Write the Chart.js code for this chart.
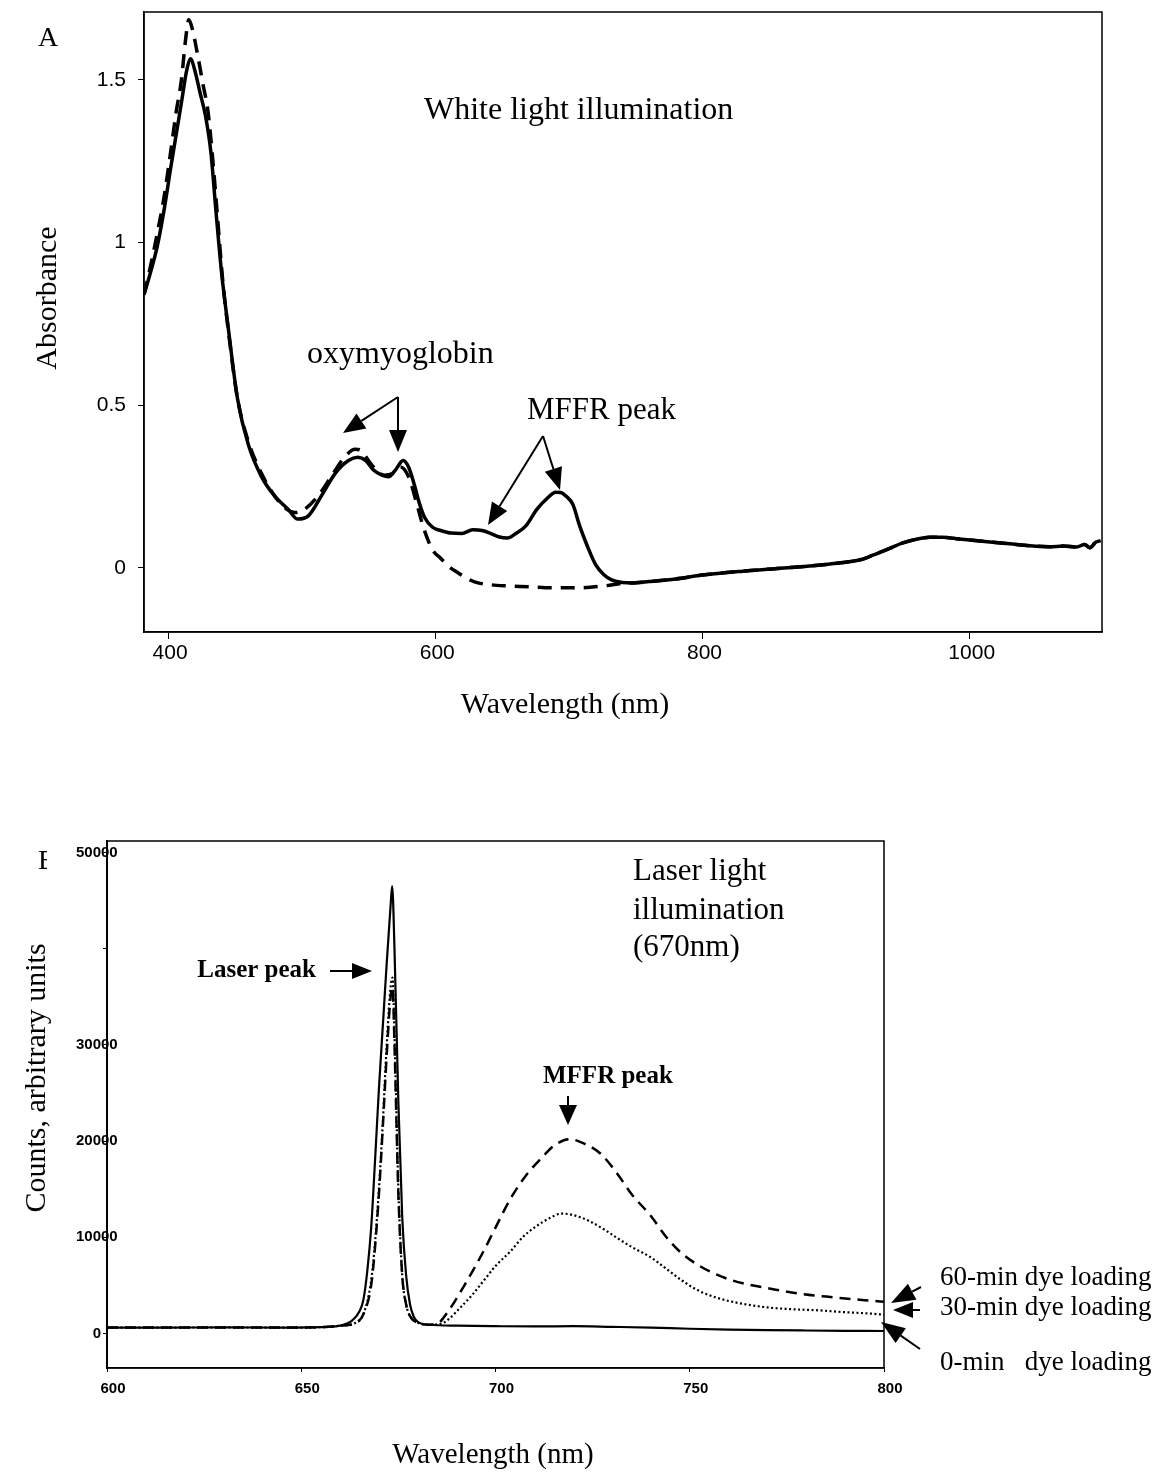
<!DOCTYPE html>
<html><head><meta charset="utf-8">
<script src="https://cdn.jsdelivr.net/npm/chart.js@4.4.1/dist/chart.umd.min.js"></script>
<style>
html,body{margin:0;padding:0;background:#fff;}
body{width:1156px;height:1474px;position:relative;overflow:hidden;}
#c1{position:absolute;left:0;top:0;}
#c2{position:absolute;left:0;top:760px;}
</style></head><body>
<canvas id="c1" width="1156" height="760"></canvas>
<canvas id="c2" width="1156" height="714"></canvas>
<script>
// ---------- Panel A: absorbance (white light) ----------
const absNmSolid = [382,387,392,397,402,406,410,414,417,420,424,428,432,436,440,445,452,460,470,480,490,497,505,516,525,535,542,548,554,560,565,570,576,580,584,588,592,598,604,612,620,628,635,642,648,654,660,668,676,684,690,694,698,703,708,714,720,726,732,740,748,760,780,800,830,852,880,902,918,928,940,950,960,970,980,990,1000,1015,1030,1045,1060,1070,1080,1086,1090,1094,1098];
const absSolid = [0.84,0.91,0.99,1.10,1.23,1.33,1.43,1.53,1.565,1.53,1.46,1.39,1.28,1.09,0.91,0.74,0.52,0.38,0.28,0.22,0.18,0.15,0.16,0.23,0.29,0.33,0.34,0.33,0.30,0.285,0.28,0.30,0.33,0.31,0.26,0.20,0.155,0.125,0.115,0.107,0.106,0.117,0.115,0.105,0.095,0.092,0.105,0.13,0.18,0.215,0.233,0.232,0.22,0.195,0.13,0.065,0.01,-0.02,-0.037,-0.045,-0.046,-0.042,-0.034,-0.022,-0.01,-0.003,0.006,0.015,0.025,0.04,0.06,0.077,0.088,0.094,0.094,0.09,0.086,0.08,0.074,0.068,0.065,0.067,0.064,0.072,0.062,0.078,0.084];
const absNmDashed = [382,387,392,397,402,406,410,413,415.5,418,422,426,430,434,437,441,446,452,460,470,480,489,495,502,512,522,532,540,545,550,556,562,568,574,580,586,591,598,604,610,617,625,632,642,652,670,687,707,727,744,748,760,780,800,830,852,880,902,918,928,940,950,960,970,980,990,1000,1015,1030,1045,1060,1070,1080,1086,1090,1094,1098];
const absDashed = [0.84,0.93,1.03,1.14,1.28,1.40,1.50,1.62,1.685,1.66,1.58,1.49,1.40,1.23,1.08,0.88,0.70,0.52,0.39,0.29,0.22,0.18,0.17,0.18,0.22,0.28,0.34,0.365,0.36,0.33,0.30,0.285,0.29,0.31,0.28,0.20,0.126,0.055,0.03,0.005,-0.015,-0.035,-0.046,-0.052,-0.055,-0.058,-0.061,-0.061,-0.055,-0.046,-0.046,-0.042,-0.034,-0.022,-0.01,-0.003,0.006,0.015,0.025,0.04,0.06,0.077,0.088,0.094,0.094,0.09,0.086,0.08,0.074,0.068,0.065,0.067,0.064,0.072,0.062,0.078,0.084];
const absXTicks = [400,600,800,1000];
const absYTicks = [0,0.5,1,1.5];

// ---------- Panel B: fluorescence (laser 670 nm) ----------
const flNm0 = [600,615,630,645,655,660,663,665,666,667,668,669,670,671,672,673,673.4,674,675,676,677,678,679,680,683,690,700,710,720,730,740,750,760,770,780,790,800];
const fl0 = [600,600,620,600,650,800,1300,2300,3500,6500,11000,18000,25500,32000,38500,44500,46500,40000,24000,12000,6000,3000,1700,1200,900,800,750,720,750,680,600,480,400,340,300,270,250];
const flNm30 = [600,615,630,645,655,660,664,666,668,669,670,671,672,673,673.5,674,675,676,677,678,680,683,686,688,691,694,697,700,704,707,710,714,717,720,724,728,731,735,740,744,748,752,757,762,770,777,783,790,795,800];
const fl30 = [600,600,620,600,650,800,1100,2000,5500,9500,15000,22000,30000,36000,37000,31000,15000,6000,3000,1800,1100,900,1000,1500,2700,4000,5500,7000,8600,10000,11000,12000,12460,12300,11700,10800,10000,9000,7900,6700,5500,4500,3700,3200,2700,2500,2400,2200,2100,1950];
const flNm60 = [600,615,630,645,655,660,664,666,668,669,670,671,672,673,673.5,674,675,676,677,678,680,683,685,688,692,697,700,704,708,712,715,719,723,727,731,735,740,744,748,753,757,761,766,770,778,787,795,800];
const fl60 = [600,600,620,600,650,800,1100,2000,5000,9000,14500,21500,29000,35000,36000,30000,14500,6000,3000,1800,1100,900,1000,2400,5000,8600,11000,14100,16500,18300,19500,20200,19700,18700,16800,14500,12200,10000,8300,6900,6100,5500,5000,4700,4150,3750,3450,3300];
const flXTicks = [600,650,700,750,800];
const flYTicks = [0,10000,20000,30000,40000,50000];
const flYLabels = ['0','10000','20000','30000','','50000'];

const SERIF = "'Liberation Serif','Times New Roman',serif";
const SANS = "'Liberation Sans',Arial,sans-serif";

function pts(xs, ys){ return xs.map((x,i)=>({x:x, y:ys[i]})); }
function arrow(ctx,x1,y1,x2,y2,hl,hw){
  const a=Math.atan2(y2-y1,x2-x1);
  const bx=x2-hl*Math.cos(a), by=y2-hl*Math.sin(a);
  ctx.beginPath(); ctx.moveTo(x1,y1); ctx.lineTo(bx,by); ctx.stroke();
  ctx.beginPath(); ctx.moveTo(x2,y2);
  ctx.lineTo(bx+hw*Math.sin(a), by-hw*Math.cos(a));
  ctx.lineTo(bx-hw*Math.sin(a), by+hw*Math.cos(a));
  ctx.closePath(); ctx.fill();
}
function txt(ctx,s,x,y,font,align){
  ctx.font=font; ctx.textAlign=align||'left'; ctx.textBaseline='middle'; ctx.fillText(s,x,y);
}
function vtxt(ctx,s,x,y,font){
  ctx.save(); ctx.translate(x,y); ctx.rotate(-Math.PI/2);
  ctx.font=font; ctx.textAlign='center'; ctx.textBaseline='middle'; ctx.fillText(s,0,0); ctx.restore();
}
function boxPlugin(){ return {
  id:'box',
  afterDraw(chart){
    const ctx=chart.ctx, a=chart.chartArea;
    ctx.save(); ctx.strokeStyle='#000'; ctx.lineWidth=1.5;
    ctx.strokeRect(a.left,a.top,a.right-a.left,a.bottom-a.top); ctx.restore();
  }};
}
function noPadX(s){ s.paddingLeft=0; s.paddingRight=0; }
function noPadY(s){ s.paddingTop=0; s.paddingBottom=0; }

const annoA = {
  id:'annoA',
  afterDraw(chart){
    const ctx=chart.ctx; ctx.save(); ctx.fillStyle='#000'; ctx.strokeStyle='#000'; ctx.lineWidth=2;
    txt(ctx,'A',38,39,'28px '+SERIF);
    txt(ctx,'White light illumination',424,111,'32px '+SERIF);
    txt(ctx,'oxymyoglobin',307,355,'32px '+SERIF);
    txt(ctx,'MFFR peak',527,411,'31px '+SERIF);
    vtxt(ctx,'Absorbance',48,298,'30px '+SERIF);
    txt(ctx,'Wavelength (nm)',565,705,'30px '+SERIF,'center');
    arrow(ctx,398,397,343,433,22,9);
    arrow(ctx,398,397,398,452,22,9);
    arrow(ctx,543,436,488,525,22,9);
    arrow(ctx,543,436,560,490,22,9);
    ctx.restore();
  }
};

const OFF=760;
const annoB = {
  id:'annoB',
  afterDraw(chart){
    const ctx=chart.ctx; ctx.save(); ctx.fillStyle='#000'; ctx.strokeStyle='#000'; ctx.lineWidth=2;
    ctx.save(); ctx.beginPath(); ctx.rect(0,0,47,200); ctx.clip();
    txt(ctx,'B',38,862-OFF,'28px '+SERIF); ctx.restore();
    txt(ctx,'Laser light',633,872-OFF,'31px '+SERIF);
    txt(ctx,'illumination',633,911-OFF,'31px '+SERIF);
    txt(ctx,'(670nm)',633,948-OFF,'31px '+SERIF);
    txt(ctx,'Laser peak',316,971-OFF,'bold 25px '+SERIF,'right');
    arrow(ctx,330,971-OFF,372,971-OFF,20,8);
    txt(ctx,'MFFR peak',543,1077-OFF,'bold 25px '+SERIF);
    arrow(ctx,568,1096-OFF,568,1125-OFF,20,9);
    vtxt(ctx,'Counts, arbitrary units',37,1078-OFF,'30px '+SERIF);
    txt(ctx,'Wavelength (nm)',493,1455-OFF,'29px '+SERIF,'center');
    txt(ctx,'60-min dye loading',940,1278-OFF,'27px '+SERIF);
    txt(ctx,'30-min dye loading',940,1308-OFF,'27px '+SERIF);
    txt(ctx,'0-min   dye loading',940,1363-OFF,'27px '+SERIF);
    arrow(ctx,921,1287-OFF,891,1303-OFF,24,9);
    arrow(ctx,920,1310-OFF,893,1310-OFF,20,8);
    arrow(ctx,920,1349-OFF,881,1322-OFF,24,9);
    ctx.restore();
  }
};

function lineDs(data,dash,w){
  return {data:data, showLine:true, borderColor:'#000', backgroundColor:'#000', borderWidth:w,
    borderDash:dash, pointRadius:0, pointHoverRadius:0, fill:false, cubicInterpolationMode:'monotone'};
}

new Chart(document.getElementById('c1'), {
  type:'scatter',
  data:{datasets:[
    lineDs(pts(absNmDashed,absDashed),[14,9],3.5),
    lineDs(pts(absNmSolid,absSolid),[],3.5)
  ]},
  options:{
    responsive:false, animation:false, devicePixelRatio:1,
    layout:{padding:{left:0,top:12,right:54,bottom:0}},
    plugins:{legend:{display:false},tooltip:{enabled:false}},
    scales:{
      x:{type:'linear',min:382,max:1099,
        afterBuildTicks(s){ s.ticks=absXTicks.map(v=>({value:v})); },
        afterFit(s){ s.height=128; noPadX(s); },
        grid:{drawOnChartArea:false,drawTicks:true,tickLength:7,color:'#000',lineWidth:1},
        border:{display:true,color:'#000',width:1.5},
        ticks:{color:'#000',font:{family:SANS,size:21},padding:2,labelOffset:2,maxRotation:0,callback:v=>String(v)}
      },
      y:{type:'linear',min:-0.197,max:1.709,
        afterBuildTicks(s){ s.ticks=absYTicks.map(v=>({value:v})); },
        afterFit(s){ s.width=144; noPadY(s); },
        grid:{drawOnChartArea:false,drawTicks:true,tickLength:6,color:'#000',lineWidth:1},
        border:{display:true,color:'#000',width:1.5},
        ticks:{color:'#000',font:{family:SANS,size:21},padding:12,callback:v=>String(v)}
      }
    }
  },
  plugins:[boxPlugin(),annoA]
});

new Chart(document.getElementById('c2'), {
  type:'scatter',
  data:{datasets:[
    lineDs(pts(flNm60,fl60),[11,7],2.5),
    lineDs(pts(flNm30,fl30),[2,2.5],2.2),
    lineDs(pts(flNm0,fl0),[],2.2)
  ]},
  options:{
    responsive:false, animation:false, devicePixelRatio:1,
    layout:{padding:{left:0,top:81,right:272,bottom:0}},
    plugins:{legend:{display:false},tooltip:{enabled:false}},
    scales:{
      x:{type:'linear',min:600,max:800,
        afterBuildTicks(s){ s.ticks=flXTicks.map(v=>({value:v})); },
        afterFit(s){ s.height=106; noPadX(s); },
        grid:{drawOnChartArea:false,drawTicks:true,tickLength:4,color:'#000',lineWidth:1},
        border:{display:true,color:'#000',width:1.5},
        ticks:{color:'#000',font:{family:SANS,size:15,weight:'bold'},padding:8,labelOffset:6,maxRotation:0,callback:v=>String(v)}
      },
      y:{type:'linear',min:-3600,max:51200,
        afterBuildTicks(s){ s.ticks=flYTicks.map(v=>({value:v})); },
        afterFit(s){ s.width=107; noPadY(s); },
        grid:{drawOnChartArea:false,drawTicks:true,tickLength:4,color:'#000',lineWidth:1},
        border:{display:true,color:'#000',width:2},
        ticks:{color:'#000',font:{family:SANS,size:15,weight:'bold'},mirror:true,padding:-31,crossAlign:'center',
          callback:(v)=>{ const i=flYTicks.indexOf(v); return i>=0?flYLabels[i]:''; }}
      }
    }
  },
  plugins:[boxPlugin(),annoB]
});
</script></body></html>
